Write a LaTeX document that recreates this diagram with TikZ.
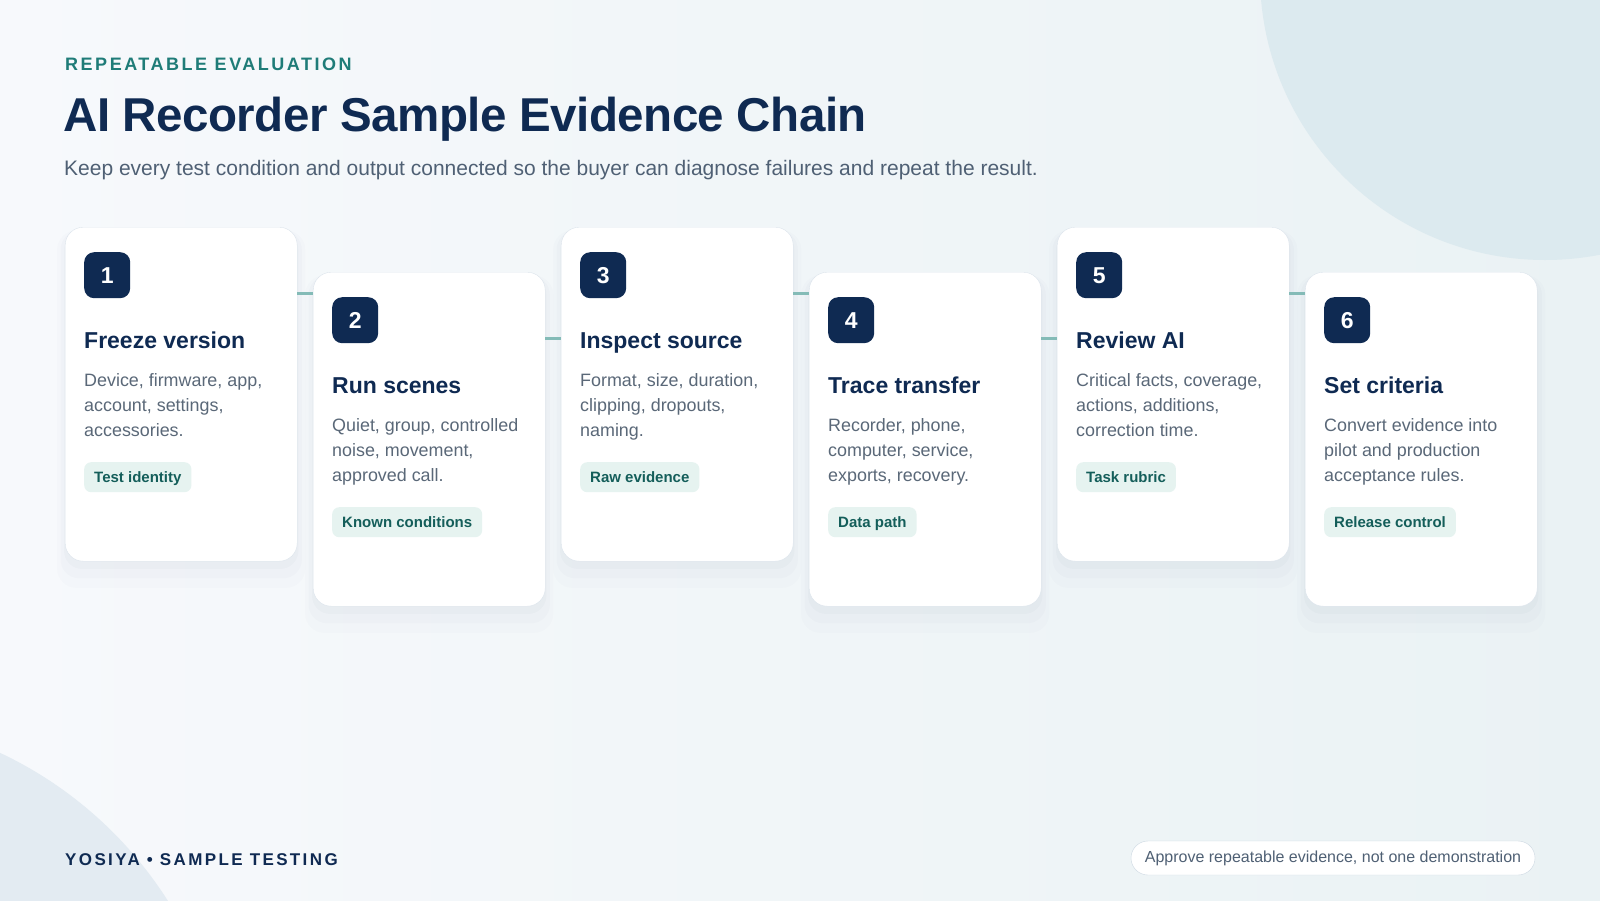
\documentclass[tikz,border=0pt]{standalone}
\usepackage{fontspec}
\setmainfont{Liberation Sans}
\usetikzlibrary{positioning,shadows}
\definecolor{navy}{HTML}{0F2A52}
\definecolor{kicker}{HTML}{1F7C78}
\definecolor{subgray}{HTML}{4F6074}
\definecolor{bodygray}{HTML}{5A6878}
\definecolor{tagfill}{HTML}{E6F3F0}
\definecolor{tagtext}{HTML}{145E5A}
\definecolor{linkteal}{HTML}{84BBB7}
\definecolor{cardline}{HTML}{DCE4EC}
\definecolor{pillline}{HTML}{CCD8E2}
\definecolor{bgA}{HTML}{F7F9FC}
\definecolor{bgB}{HTML}{EAF2F4}
\definecolor{blobA}{HTML}{DCEAEF}
\definecolor{blobB}{HTML}{E3EBF2}
\begin{document}
\begin{tikzpicture}[x=1pt,y=-1pt,
  card/.style={draw=cardline, fill=white, rounded corners=18pt, minimum width=232pt, minimum height=334pt, anchor=north west, inner sep=0pt,
    drop shadow={opacity=0.012, fill=navy, shadow xshift=0pt, shadow yshift=-14pt, shadow scale=1.07},
    drop shadow={opacity=0.016, fill=navy, shadow xshift=0pt, shadow yshift=-10pt, shadow scale=1.04},
    drop shadow={opacity=0.02, fill=navy, shadow xshift=0pt, shadow yshift=-6pt, shadow scale=1.01}},
  badge/.style={fill=navy, rounded corners=10pt, minimum size=46pt, inner sep=0pt, anchor=north west, text=white, font=\fontsize{23}{23}\selectfont\bfseries},
  head/.style={anchor=base west, inner sep=0pt, text=navy, font=\fontsize{23}{27}\selectfont\bfseries},
  body/.style={anchor=north west, inner sep=0pt, text=bodygray, align=left, font=\fontsize{17.9}{25}\selectfont},
  tag/.style={fill=tagfill, rounded corners=7pt, minimum height=30pt, inner xsep=10pt, inner ysep=0pt, text height=12pt, text depth=1pt, anchor=north west, text=tagtext, font=\fontsize{15}{16}\selectfont\bfseries},
  link/.style={draw=linkteal, line width=3pt}]

 % page and background shapes
 \useasboundingbox (0,0) rectangle (1600,900);
 \shade[left color=bgA, right color=bgB] (0,0) rectangle (1600,900);
 \begin{scope}
  \clip (0,0) rectangle (1600,900);
  \fill[blobA] (1545,-25) circle (285pt);
  \fill[blobB] (-170,1115) circle (400pt);
 \end{scope}

 % header
 \node[anchor=base west, inner sep=0pt, text=kicker, font=\fontsize{18}{20}\selectfont\bfseries\addfontfeatures{LetterSpace=14}] (kick) at (65,70) {REPEATABLE EVALUATION};
 \node[anchor=base west, inner sep=0pt, text=navy, font=\fontsize{47.5}{56}\selectfont\bfseries\addfontfeatures{LetterSpace=-1.1}] (title) at (63,131) {AI Recorder Sample Evidence Chain};
 \node[anchor=base west, inner sep=0pt, text=subgray, font=\fontsize{21}{24}\selectfont] (sub) at (64,175) {Keep every test condition and output connected so the buyer can diagnose failures and repeat the result.};

 % cards
 \node[card] (c1) at (65,227) {};
 \node[card] (c2) at (313,272) {};
 \node[card] (c3) at (561,227) {};
 \node[card] (c4) at (809,272) {};
 \node[card] (c5) at (1057,227) {};
 \node[card] (c6) at (1305,272) {};

 % links between cards
 \coordinate (l1) at ([yshift=-66pt]c1.north east);
 \coordinate (l2) at ([yshift=-66pt]c2.north east);
 \coordinate (l3) at ([yshift=-66pt]c3.north east);
 \coordinate (l4) at ([yshift=-66pt]c4.north east);
 \coordinate (l5) at ([yshift=-66pt]c5.north east);
 \draw[link] (l1) -- (l1 -| c2.west);
 \draw[link] (l2) -- (l2 -| c3.west);
 \draw[link] (l3) -- (l3 -| c4.west);
 \draw[link] (l4) -- (l4 -| c5.west);
 \draw[link] (l5) -- (l5 -| c6.west);

 % card 1
 \node[badge] (b1) at (84,252) {1};
 \node[head] (h1) at (84,348) {Freeze version};
 \node[body] (t1) at (84,373) {Device, firmware, app,\\account, settings,\\accessories.};
 \node[tag] (g1) at (84,462) {Test identity};

 % card 2
 \node[badge] (b2) at (332,297) {2};
 \node[head] (h2) at (332,393) {Run scenes};
 \node[body] (t2) at (332,418) {Quiet, group, controlled\\noise, movement,\\approved call.};
 \node[tag] (g2) at (332,507) {Known conditions};

 % card 3
 \node[badge] (b3) at (580,252) {3};
 \node[head] (h3) at (580,348) {Inspect source};
 \node[body] (t3) at (580,373) {Format, size, duration,\\clipping, dropouts,\\naming.};
 \node[tag] (g3) at (580,462) {Raw evidence};

 % card 4
 \node[badge] (b4) at (828,297) {4};
 \node[head] (h4) at (828,393) {Trace transfer};
 \node[body] (t4) at (828,418) {Recorder, phone,\\computer, service,\\exports, recovery.};
 \node[tag] (g4) at (828,507) {Data path};

 % card 5
 \node[badge] (b5) at (1076,252) {5};
 \node[head] (h5) at (1076,348) {Review AI};
 \node[body] (t5) at (1076,373) {Critical facts, coverage,\\actions, additions,\\correction time.};
 \node[tag] (g5) at (1076,462) {Task rubric};

 % card 6
 \node[badge] (b6) at (1324,297) {6};
 \node[head] (h6) at (1324,393) {Set criteria};
 \node[body] (t6) at (1324,418) {Convert evidence into\\pilot and production\\acceptance rules.};
 \node[tag] (g6) at (1324,507) {Release control};

 % footer
 \node[anchor=base west, inner sep=0pt, text=navy, font=\fontsize{17}{20}\selectfont\bfseries\addfontfeatures{LetterSpace=14}] (brand) at (65,865) {YOSIYA • SAMPLE TESTING};
 \node[draw=pillline, fill=white, rounded corners=17pt, minimum width=404pt, minimum height=34pt, inner sep=0pt, text=subgray, font=\fontsize{16}{18}\selectfont] (note) at (1333,858) {Approve repeatable evidence, not one demonstration};
\end{tikzpicture}
\end{document}
